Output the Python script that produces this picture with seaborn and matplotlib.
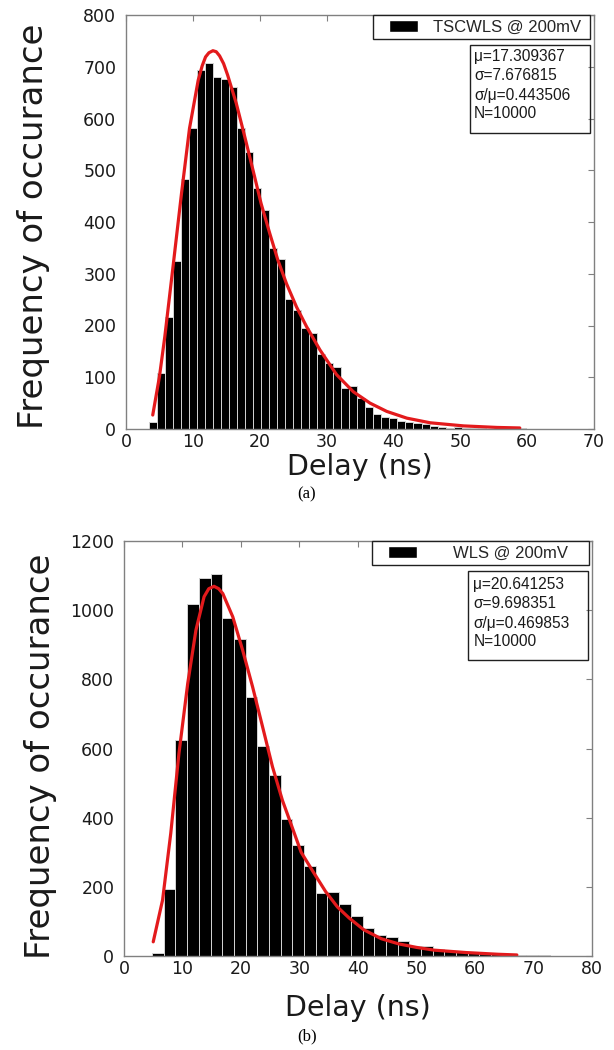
import numpy as np
import pandas as pd
import matplotlib
matplotlib.use("Agg")
import matplotlib.pyplot as plt
import seaborn as sns
from matplotlib.patches import Rectangle
from matplotlib.legend_handler import HandlerPatch

# ---------------- data ----------------
# (a) TSCWLS @ 200mV : histogram bin centres (ns) and counts
delay_a = [4.0, 5.2, 6.4, 7.6, 8.8, 10.0, 11.2, 12.4, 13.6, 14.8,
           16.0, 17.2, 18.4, 19.6, 20.8, 22.0, 23.2, 24.4, 25.6, 26.8,
           28.0, 29.2, 30.4, 31.6, 32.8, 34.0, 35.2, 36.4, 37.6, 38.8,
           40.0, 41.2, 42.4, 43.6, 44.8, 46.0, 47.2, 48.4, 49.6, 50.8,
           52.0, 53.2, 54.4, 55.6, 56.8, 58.0, 59.2]
count_a = [13, 108, 217, 325, 484, 582, 694, 708, 681, 676,
           660, 582, 536, 466, 424, 349, 328, 251, 230, 196,
           185, 145, 127, 120, 80, 84, 59, 43, 29, 24,
           21, 16, 14, 11, 9, 6, 3, 2, 3, 2,
           1, 1, 0, 1, 0, 0, 1]
fit_delay_a = [4.0, 5.0, 5.8, 7.0, 8.3, 9.5, 10.8, 11.4, 11.9, 12.4, 13.0, 13.5, 14.0,
               14.6, 15.2, 16.5, 17.7, 19.0, 20.2, 21.5, 22.7, 24.0, 25.5, 27.0,
               29.0, 31.5, 34.0, 36.5, 39.0, 42.0, 45.5, 50.5, 55.5, 58.9]
fit_count_a = [27, 101, 178, 310, 455, 581, 674, 702, 719, 727, 731, 729, 721,
               706, 684, 629, 568, 500, 436, 378, 327, 281, 236, 198,
               153, 105, 72, 50, 34, 21, 12, 6, 3, 2]
legend_a = "TSCWLS @ 200mV"
stats_a = ["\u03bc=17.309367", "\u03c3=7.676815", "\u03c3/\u03bc=0.443506", "N=10000"]

# (b) WLS @ 200mV
delay_b = [5.8, 7.8, 9.8, 11.8, 13.8, 15.8, 17.8, 19.8, 21.8, 23.8,
           25.8, 27.8, 29.8, 31.8, 33.8, 35.8, 37.8, 39.8, 41.8, 43.8,
           45.8, 47.8, 49.8, 51.8, 53.8, 55.8, 57.8, 59.8, 61.8, 63.8,
           65.8, 67.8, 69.8, 71.8, 73.8, 75.8, 77.8]
count_b = [10, 194, 624, 1017, 1094, 1106, 978, 917, 750, 607,
           523, 397, 321, 260, 181, 186, 150, 117, 80, 62,
           55, 43, 30, 28, 19, 14, 11, 9, 8, 7,
           5, 4, 4, 2, 1, 1, 1]
fit_delay_b = [5.0, 6.6, 8.0, 9.4, 10.9, 12.3, 13.7, 14.5, 15.4, 16.2, 16.9, 18.6,
               20.3, 22.0, 23.7, 25.4, 27.1, 28.6, 30.3, 32.3, 34.5, 36.5,
               38.5, 41.0, 44.0, 47.0, 50.0, 53.0, 58.5, 64.0, 67.2]
fit_count_b = [41, 162, 355, 586, 788, 942, 1039, 1062, 1069, 1062, 1048, 981,
               884, 778, 663, 547, 450, 380, 300, 245, 186, 142,
               110, 76, 50, 35, 25, 17, 10, 5, 3]
legend_b = "WLS @ 200mV"
stats_b = ["\u03bc=20.641253", "\u03c3=9.698351", "\u03c3/\u03bc=0.469853", "N=10000"]

x_label = "Delay (ns)"
y_label = "Frequency of occurance"
captions = ["(a)", "(b)"]

# ---------------- style ----------------
sns.set_style("white")
plt.rcParams["font.family"] = ["DejaVu Sans"]

W, H = 614, 1050
fig = plt.figure(figsize=(W / 100, H / 100), dpi=100)
fig.patch.set_facecolor("white")


def fr(l, t, r, b):
    return [l / W, 1 - b / H, (r - l) / W, (b - t) / H]


HANDLE_PT = 20.9  # width of black legend swatch in points


def swatch(legend, orig_handle, xdescent, ydescent, width, height, fontsize):
    return Rectangle((-xdescent + width - HANDLE_PT, -ydescent), HANDLE_PT, height,
                     facecolor="black", edgecolor="none")


panels = [
    dict(rect=fr(126, 15, 594, 429), delay=delay_a, count=count_a, fx=fit_delay_a, fy=fit_count_a,
         binw=1.2, brange=(3.4, 59.8), xlim=(0, 70), xt=np.arange(0, 71, 10),
         ylim=(0, 800), yt=np.arange(0, 801, 100), legend=legend_a, stats=stats_a,
         leg_box=(0.5278, 0.4637), txtpad=0.9,
         sbox=(0.735, 0.715, 0.2565, 0.2125), sx=0.7436, sy=[0.8993, 0.8527, 0.8051, 0.7626],
         ylc=(-0.162, 0.49), xly=-0.0918, cap_y=494),
    dict(rect=fr(124, 541, 591.7, 956), delay=delay_b, count=count_b, fx=fit_delay_b, fy=fit_count_b,
         binw=2.0, brange=(4.8, 78.8), xlim=(0, 80), xt=np.arange(0, 81, 10),
         ylim=(0, 1200), yt=np.arange(0, 1201, 200), legend=legend_b, stats=stats_b,
         leg_box=(0.5296, 0.4646), txtpad=2.2,
         sbox=(0.736, 0.7133, 0.2555, 0.2144), sx=0.747, sy=[0.8940, 0.8499, 0.8017, 0.7574],
         ylc=(-0.144, 0.48), xly=-0.1253, cap_y=1036),
]

for i, p in enumerate(panels):
    ax = fig.add_axes(p["rect"])
    df = pd.DataFrame({"delay": p["delay"], "count": p["count"]})
    sns.histplot(data=df, x="delay", weights="count", binwidth=p["binw"], binrange=p["brange"],
                 color="black", edgecolor="#d4d4d4", linewidth=0.7, alpha=1.0, ax=ax)
    fit = pd.DataFrame({"delay": p["fx"], "count": p["fy"]})
    sns.lineplot(data=fit, x="delay", y="count", color="#e31a1c", linewidth=2.3, ax=ax,
                 sort=True, estimator=None)

    ax.set_xlim(*p["xlim"])
    ax.set_ylim(*p["ylim"])
    ax.set_xticks(p["xt"])
    ax.set_yticks(p["yt"])
    ax.tick_params(direction="in", length=4, width=0.8, color="#808080",
                   top=True, right=True, labelsize=12.5, labelcolor="#1a1a1a")
    ax.tick_params(axis="x", pad=3)
    ax.tick_params(axis="y", pad=7)
    for s in ax.spines.values():
        s.set_color("#808080")
        s.set_linewidth(1.0)
        s.set_visible(True)

    ax.set_xlabel(x_label, fontsize=20.5, color="#1a1a1a", va="center")
    ax.xaxis.set_label_coords(0.5, p["xly"])
    ax.set_ylabel(y_label, fontsize=24.5, color="#1a1a1a")
    ax.yaxis.set_label_coords(*p["ylc"])

    # legend
    h = Rectangle((0, 0), 1, 1, facecolor="black")
    leg = ax.legend(handles=[h], labels=[p["legend"]], loc="upper left",
                    bbox_to_anchor=(p["leg_box"][0], 0, p["leg_box"][1], 1.0),
                    mode="expand", borderaxespad=0, borderpad=0.27,
                    handlelength=2.43, handletextpad=p["txtpad"],
                    prop={"family": "Liberation Sans", "size": 12},
                    frameon=True, fancybox=False, framealpha=1, edgecolor="#202020",
                    handler_map={Rectangle: HandlerPatch(patch_func=swatch)})
    leg.get_frame().set_linewidth(1.0)

    # statistics box
    bx, by, bw, bh = p["sbox"]
    ax.add_patch(Rectangle((bx, by), bw, bh, transform=ax.transAxes, fill=False,
                           edgecolor="#202020", linewidth=1.0, zorder=5))
    for line, yy in zip(p["stats"], p["sy"]):
        ax.text(p["sx"], yy, line, transform=ax.transAxes, ha="left", va="center",
                fontsize=11.2, family="Liberation Sans", color="#1a1a1a", zorder=6)

    fig.text(0.5, 1 - p["cap_y"] / H, captions[i], ha="center", va="center",
             family="Liberation Serif", fontsize=12, color="black")

fig.savefig("out.png", dpi=100, facecolor="white")
